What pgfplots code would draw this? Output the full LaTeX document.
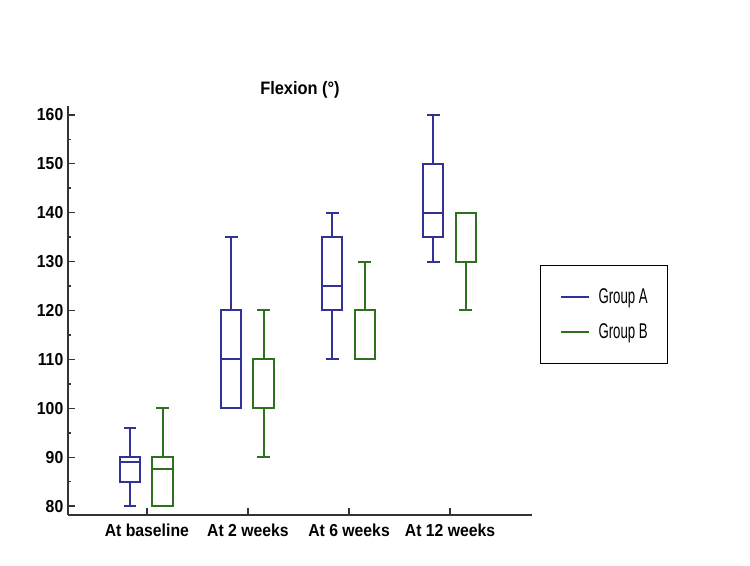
\documentclass[border=0pt]{standalone}
\usepackage{pgfplots}
\pgfplotsset{compat=1.18}
\usepackage{fontspec}
\setmainfont{Liberation Sans}
\newfontfamily\tickfont[FakeStretch=0.91]{Liberation Sans}
\newfontfamily\legfont[FakeStretch=0.62]{Liberation Sans}
\definecolor{cA}{RGB}{50,50,150}
\definecolor{cB}{RGB}{45,112,30}
% box: colour, position, lower whisker, lower quartile, median, upper quartile, upper whisker
\newcommand{\bxp}[7]{%
 \pgfmathsetmacro\bxl{#2-0.1}\pgfmathsetmacro\bxr{#2+0.1}%
 \pgfmathsetmacro\wxl{#2-0.063}\pgfmathsetmacro\wxr{#2+0.063}%
 \addplot[draw=#1, line width=1.5pt, forget plot, unbounded coords=jump, line join=miter] coordinates {
  (#2,#4) (\bxr,#4) (\bxr,#6) (\bxl,#6) (\bxl,#4) (#2,#4) (#2,nan)
  (\bxl,#5) (\bxr,#5) (\bxr,nan)
  (#2,#6) (#2,#7) (#2,nan)
  (\wxl,#7) (\wxr,#7) (\wxr,nan)
  (#2,#4) (#2,#3) (#2,nan)
  (\wxl,#3) (\wxr,#3)
 };}
\begin{document}
\begin{tikzpicture}
\useasboundingbox (0,0) rectangle (562.5pt,424.5pt);
\begin{axis}[
  at={(51pt,38.25pt)}, anchor=south west,
  scale only axis, width=348pt, height=306.75pt,
  xmin=-0.78, xmax=3.81, ymin=78.2, ymax=161.8,
  axis lines=left, axis line style={-, line width=1.5pt, black!80},
  xtick={0,1,2,3},
  xticklabels={At baseline, At 2 weeks, At 6 weeks, At 12 weeks},
  ytick={80,90,...,160}, minor ytick={85,95,...,155},
  major tick length=5pt, minor tick length=2.5pt,
  tick style={line width=1.1pt, black!80},
  tick align=inside,
  /pgf/number format/assume math mode=true,
  ticklabel style={font=\fontsize{13}{15}\tickfont\bfseries},
  xticklabel style={anchor=base, yshift=-16.5pt},
  title={Flexion (°)},
  title style={font=\fontsize{13.5}{15}\tickfont\bfseries, at={(0.5,1)}, anchor=base, yshift=2.5pt},
  clip=false,
  legend style={at={(1.0172,0.611)}, anchor=north west, draw=black, line width=0.6pt,
     inner xsep=15pt, inner ysep=17pt, row sep=13.75pt, column sep=6pt,
     nodes={inner sep=0pt},
     font=\fontsize{16}{18}\legfont, cells={anchor=west}},
  legend image code/.code={\draw[#1] (0pt,0pt) -- (21pt,0pt);},
]
% Group A
\bxp{cA}{-0.166}{80}{85}{89}{90}{96}
\bxp{cA}{0.834}{100}{100}{110}{120}{135}
\bxp{cA}{1.834}{110}{120}{125}{135}{140}
\bxp{cA}{2.834}{130}{135}{140}{150}{160}
% Group B
\bxp{cB}{0.155}{80}{80}{87.5}{90}{100}
\bxp{cB}{1.155}{90}{100}{100}{110}{120}
\bxp{cB}{2.155}{110}{110}{110}{120}{130}
\bxp{cB}{3.155}{120}{130}{140}{140}{140}
\addlegendimage{cA, line width=1.6pt}
\addlegendentry{Group A}
\addlegendimage{cB, line width=1.6pt}
\addlegendentry{Group B}
\end{axis}
\end{tikzpicture}
\end{document}
